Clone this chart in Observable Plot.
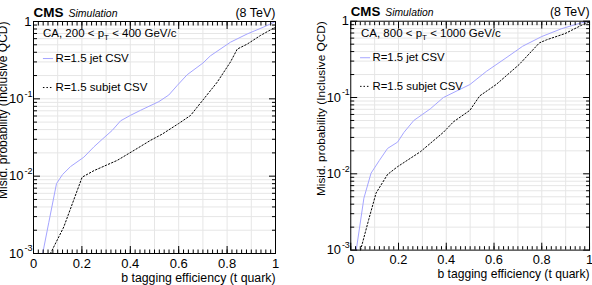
<!DOCTYPE html>
<html><head><meta charset="utf-8">
<script src="https://cdn.jsdelivr.net/npm/d3@7"></script>
<script src="https://cdn.jsdelivr.net/npm/@observablehq/plot@0.6"></script>
<style>
body{margin:0;overflow:hidden;background:#fff;}
#wrap{position:relative;width:592px;height:285px;overflow:hidden;background:#fff;}
.panel{position:absolute;top:0;}
.ann{position:absolute;font:11.5px "Liberation Sans",Arial,sans-serif;white-space:nowrap;line-height:12px;color:#000;}
.ann sub{font-size:8px;vertical-align:-3px;line-height:0;}
</style></head><body><div id="wrap"></div>
<script>
// ---- data ----
const effTicks = [0, 0.2, 0.4, 0.6, 0.8, 1];
const effMinorTicks = d3.range(0, 51).map(i => i / 50);
const effGrid = d3.range(1, 10).map(i => i / 10);
const misidDecades = [0.001, 0.01, 0.1, 1];
const misidMinor = [0.001, 0.01, 0.1].flatMap(d => d3.range(2, 10).map(k => k * d));
const seriesNames = ["R=1.5 jet CSV", "R=1.5 subjet CSV"];
const panelTitles = ["CA, 200 < p<sub>T</sub> < 400 GeV/c", "CA, 800 < p<sub>T</sub> < 1000 GeV/c"];
const legendY = [0.332, 0.14];
const legendX = [0.041, 0.083];

// left panel: 200 < pT < 400
const lowJetEff   = [0.038, 0.063, 0.095, 0.12, 0.153, 0.208, 0.25, 0.284, 0.325, 0.36, 0.40, 0.442, 0.518, 0.559, 0.594, 0.635, 0.70, 0.731, 0.814, 0.883, 0.952, 1.0];
const lowJetMisid = [0.001, 0.0025, 0.008, 0.0105, 0.0133, 0.0176, 0.024, 0.030, 0.039, 0.052, 0.061, 0.071, 0.092, 0.112, 0.149, 0.205, 0.29, 0.36, 0.54, 0.69, 0.85, 1.0];
const lowSubEff   = [0.07, 0.125, 0.201, 0.25, 0.346, 0.42, 0.483, 0.532, 0.60, 0.649, 0.704, 0.759, 0.814, 0.842, 0.883, 0.938, 0.986, 1.0];
const lowSubMisid = [0.001, 0.0022, 0.0097, 0.0118, 0.016, 0.022, 0.029, 0.035, 0.048, 0.061, 0.10, 0.164, 0.30, 0.44, 0.51, 0.66, 0.80, 0.85];

// right panel: 800 < pT < 1000
const highJetEff   = [0.023, 0.055, 0.085, 0.12, 0.154, 0.196, 0.223, 0.264, 0.333, 0.388, 0.499, 0.568, 0.65, 0.72, 0.80, 0.884, 0.967, 1.0];
const highJetMisid = [0.001, 0.0048, 0.0102, 0.015, 0.0215, 0.026, 0.035, 0.05, 0.071, 0.10, 0.148, 0.22, 0.33, 0.47, 0.63, 0.80, 0.955, 1.0];
const highSubEff   = [0.041, 0.075, 0.106, 0.154, 0.196, 0.292, 0.388, 0.43, 0.499, 0.54, 0.609, 0.705, 0.79, 0.82, 0.898, 0.98, 1.0];
const highSubMisid = [0.001, 0.0025, 0.0056, 0.0098, 0.0124, 0.0195, 0.035, 0.048, 0.068, 0.105, 0.148, 0.27, 0.52, 0.57, 0.69, 0.93, 0.97];

const zip = (xs, ys) => xs.map((x, i) => ({eff: x, misid: ys[i]}));
const font = '"Liberation Sans", Arial, Helvetica, sans-serif';
const jetColor = "#a4a4ff";
const gridColor = "#e6e6e6";
const dots = "1.5,2";

function panel({left, width, marginLeft, marginRight, jet, sub, title}) {
  const plot = Plot.plot({
    width, height: 285,
    marginLeft, marginRight, marginTop: 21, marginBottom: 32,
    x: {domain: [0, 1], axis: null},
    y: {type: "log", domain: [1e-3, 1], axis: null},
    style: {fontFamily: font, background: "white", overflow: "visible", color: "black"},
    marks: [
      Plot.gridX(effGrid, {stroke: gridColor, strokeOpacity: 1}),
      Plot.gridY(misidMinor.concat([0.01, 0.1]), {stroke: gridColor, strokeOpacity: 1}),
      Plot.line(jet, {x: "eff", y: "misid", stroke: jetColor, strokeWidth: 1}),
      Plot.line(sub, {x: "eff", y: "misid", stroke: "black", strokeWidth: 1, strokeDasharray: dots}),
      Plot.frame({stroke: "black"}),
      // ticks (inward, all sides)
      Plot.axisX(effTicks, {anchor: "bottom", tickSize: -7, tickFormat: () => "", label: null}),
      Plot.axisX(effMinorTicks, {anchor: "bottom", tickSize: -3.5, tickFormat: () => "", label: null}),
      Plot.axisX(effTicks, {anchor: "top", tickSize: -7, tickFormat: () => "", label: null}),
      Plot.axisX(effMinorTicks, {anchor: "top", tickSize: -3.5, tickFormat: () => "", label: null}),
      Plot.axisY(misidDecades, {anchor: "left", tickSize: -7, tickFormat: () => "", label: null}),
      Plot.axisY(misidMinor, {anchor: "left", tickSize: -4, tickFormat: () => "", label: null}),
      Plot.axisY(misidDecades, {anchor: "right", tickSize: -7, tickFormat: () => "", label: null}),
      Plot.axisY(misidMinor, {anchor: "right", tickSize: -4, tickFormat: () => "", label: null}),
      // x tick labels
      Plot.axisX(effTicks, {anchor: "bottom", tickSize: 0, tickPadding: 5, fontSize: 13, tickFormat: d => String(+d.toFixed(1)), label: null}),
      // y tick labels
      Plot.text(misidDecades.filter(d => d < 1), {y: d => d, frameAnchor: "left", text: () => "10", textAnchor: "end", dx: -10, fontSize: 13}),
      Plot.text(misidDecades.filter(d => d < 1), {y: d => d, frameAnchor: "left", text: d => "-" + Math.round(-Math.log10(d)), textAnchor: "end", dx: -1, dy: -5, fontSize: 9}),
      Plot.text([1], {y: d => d, frameAnchor: "left", text: () => "1", textAnchor: "end", dx: -2, fontSize: 13}),
      // axis titles
      Plot.text(["b tagging efficiency (t quark)"], {frameAnchor: "bottom-right", text: d => d, textAnchor: "end", lineAnchor: "bottom", dy: 28, fontSize: 12.3}),
      Plot.text(["Misid. probability (Inclusive QCD)"], {frameAnchor: "top-left", text: d => d, rotate: -90, textAnchor: "end", lineAnchor: "middle", dx: -30, fontSize: 12}),
      // header
      Plot.text(["CMS"], {frameAnchor: "top-left", text: d => d, fontWeight: "bold", fontSize: 13.5, textAnchor: "start", lineAnchor: "bottom", dy: -5}),
      Plot.text(["Simulation"], {frameAnchor: "top-left", text: d => d, fontStyle: "italic", fontSize: 10.5, textAnchor: "start", lineAnchor: "bottom", dx: 35, dy: -5}),
      Plot.text(["(8 TeV)"], {frameAnchor: "top-right", text: d => d, fontSize: 12.5, textAnchor: "end", lineAnchor: "bottom", dy: -5}),
      // legend
      Plot.ruleY([legendY[0]], {y: d => d, x1: legendX[0], x2: legendX[1], stroke: jetColor, strokeWidth: 1}),
      Plot.ruleY([legendY[1]], {y: d => d, x1: legendX[0], x2: legendX[1], stroke: "black", strokeWidth: 1, strokeDasharray: dots}),
      Plot.text(seriesNames, {y: (d, i) => legendY[i], x: legendX[1], text: d => d, textAnchor: "start", dx: 2, fontSize: 11.5})
    ]
  });
  const div = document.createElement("div");
  div.className = "panel";
  div.style.left = left + "px";
  div.appendChild(plot);
  const ann = document.createElement("div");
  ann.className = "ann";
  ann.style.left = (marginLeft + 10) + "px";
  ann.style.top = "27px";
  ann.innerHTML = title;
  div.appendChild(ann);
  document.getElementById("wrap").appendChild(div);
}

panel({left: 0, width: 296, marginLeft: 33, marginRight: 21, jet: zip(lowJetEff, lowJetMisid), sub: zip(lowSubEff, lowSubMisid), title: panelTitles[0]});
panel({left: 296, width: 300, marginLeft: 55, marginRight: 3, jet: zip(highJetEff, highJetMisid), sub: zip(highSubEff, highSubMisid), title: panelTitles[1]});
</script>
</body></html>
